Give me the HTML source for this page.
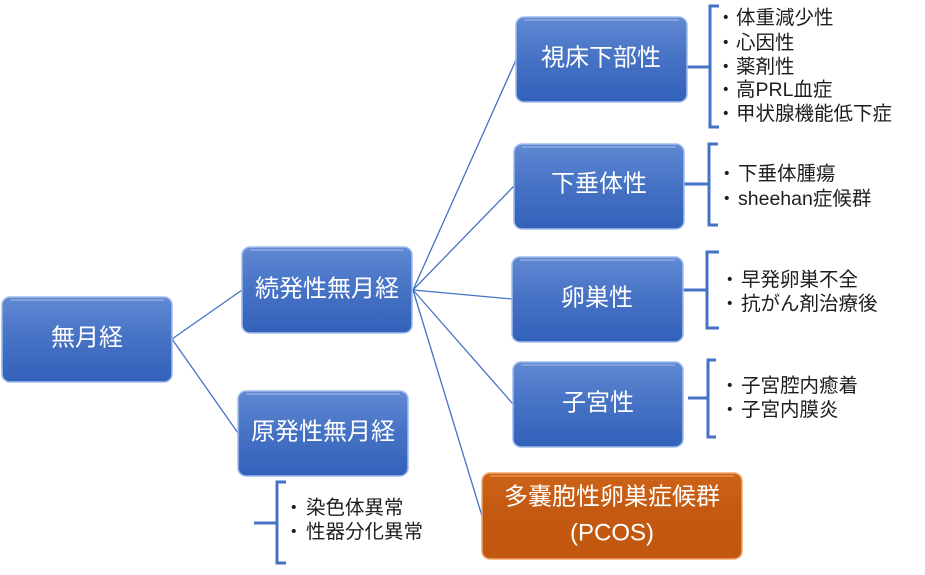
<!DOCTYPE html>
<html><head><meta charset="utf-8">
<style>
html,body{margin:0;padding:0;background:#fff;}
svg{display:block;}
.bt{font-family:"Liberation Sans","Noto Sans CJK JP",sans-serif;font-size:24px;fill:#ffffff;}
.lt{font-family:"Liberation Sans","Noto Sans CJK JP",sans-serif;font-size:19.5px;fill:#1e1e1e;}
</style></head>
<body>
<svg width="925" height="575" viewBox="0 0 925 575" xmlns="http://www.w3.org/2000/svg">
<defs>
<linearGradient id="gb" x1="0" y1="0" x2="0" y2="1">
<stop offset="0" stop-color="#6189d3"/>
<stop offset="0.45" stop-color="#4874c6"/>
<stop offset="1" stop-color="#3361ba"/>
</linearGradient>
<linearGradient id="go" x1="0" y1="0" x2="0" y2="1">
<stop offset="0" stop-color="#cc6418"/>
<stop offset="0.4" stop-color="#c45a12"/>
<stop offset="1" stop-color="#c25810"/>
</linearGradient>
</defs>

<!-- connectors -->
<g stroke="#4472c4" stroke-width="1.3" fill="none">
<line x1="172" y1="339" x2="242" y2="290"/>
<line x1="172" y1="339" x2="238" y2="433"/>
<line x1="413" y1="290" x2="516" y2="60"/>
<line x1="413" y1="290" x2="514" y2="186"/>
<line x1="413" y1="290" x2="512" y2="299"/>
<line x1="413" y1="290" x2="513" y2="404"/>
<line x1="413" y1="290" x2="482" y2="516"/>
</g>

<!-- brackets -->
<g stroke="#4472c4" stroke-width="3" fill="none">
<path d="M687 67 H710 M719 6 H710 V127 H719"/>
<path d="M684 184 H709 M718 144 H709 V225 H718"/>
<path d="M683 290 H707 M719 252 H707 V328 H719"/>
<path d="M688 398 H708 M716 360 H708 V437 H716"/>
<path d="M254 523 H277 M286 482 H277 V563 H286"/>
</g>

<!-- boxes -->
<g stroke="#9fbcec" stroke-width="1.5">
<rect x="2" y="297" width="170" height="85" rx="8" fill="url(#gb)"/>
<rect x="242" y="247" width="170" height="86" rx="8" fill="url(#gb)"/>
<rect x="238" y="391" width="170" height="85" rx="8" fill="url(#gb)"/>
<rect x="516" y="17" width="171" height="85" rx="8" fill="url(#gb)"/>
<rect x="514" y="144" width="170" height="85" rx="8" fill="url(#gb)"/>
<rect x="512" y="257" width="171" height="85" rx="8" fill="url(#gb)"/>
<rect x="513" y="362" width="170" height="85" rx="8" fill="url(#gb)"/>
</g>
<rect x="482" y="473" width="260" height="86" rx="8" fill="url(#go)" stroke="#f2a56a" stroke-width="1.5"/>

<!-- box top highlights -->
<g stroke="#8aa9e2" stroke-width="2" opacity="0.8">
<line x1="10" y1="300" x2="164" y2="300"/>
<line x1="250" y1="250" x2="404" y2="250"/>
<line x1="246" y1="394" x2="400" y2="394"/>
<line x1="524" y1="20" x2="679" y2="20"/>
<line x1="522" y1="147" x2="676" y2="147"/>
<line x1="520" y1="260" x2="675" y2="260"/>
<line x1="521" y1="365" x2="675" y2="365"/>
</g>
<line x1="490" y1="476" x2="734" y2="476" stroke="#e8904c" stroke-width="2" opacity="0.8"/>

<!-- box labels -->
<g class="bt" text-anchor="middle" dominant-baseline="central">
<text x="87" y="338">無月経</text>
<text x="327" y="289">続発性無月経</text>
<text x="323" y="432">原発性無月経</text>
<text x="601" y="58">視床下部性</text>
<text x="599" y="184">下垂体性</text>
<text x="597" y="298">卵巣性</text>
<text x="598" y="403">子宮性</text>
<text x="612" y="497">多嚢胞性卵巣症候群</text>
<text x="612" y="533">(PCOS)</text>
</g>

<!-- lists -->
<g class="lt" dominant-baseline="central">
<text x="716" y="18">・</text><text x="736" y="18">体重減少性</text>
<text x="716" y="43">・</text><text x="736" y="43">心因性</text>
<text x="716" y="67">・</text><text x="736" y="67">薬剤性</text>
<text x="716" y="90">・</text><text x="736" y="90">高PRL血症</text>
<text x="716" y="114">・</text><text x="736" y="114">甲状腺機能低下症</text>

<text x="717" y="174">・</text><text x="738" y="174">下垂体腫瘍</text>
<text x="717" y="199">・</text><text x="738" y="199">sheehan症候群</text>

<text x="720" y="280">・</text><text x="741" y="280">早発卵巣不全</text>
<text x="720" y="304">・</text><text x="741" y="304">抗がん剤治療後</text>

<text x="720" y="386">・</text><text x="741" y="386">子宮腔内癒着</text>
<text x="720" y="410">・</text><text x="741" y="410">子宮内膜炎</text>

<text x="284" y="508">・</text><text x="306" y="508">染色体異常</text>
<text x="284" y="532">・</text><text x="306" y="532">性器分化異常</text>
</g>
</svg>
</body></html>
